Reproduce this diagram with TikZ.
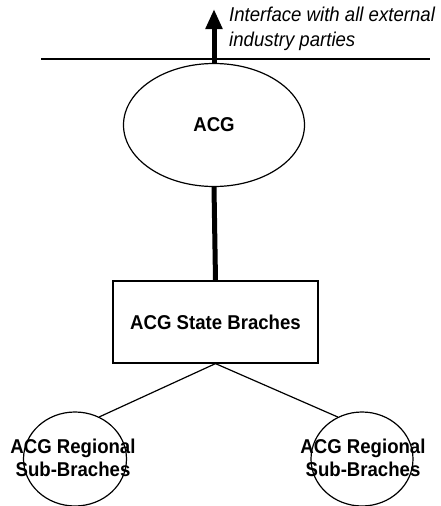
\documentclass[tikz,border=0pt]{standalone}
\usepackage{fontspec}
\setmainfont{Liberation Sans}[FakeStretch=0.93]
\usetikzlibrary{shapes.geometric,arrows.meta}
\tikzset{
  lbl/.style={font=\fontsize{20}{23}\selectfont\bfseries, align=center},
  thin/.style={line width=1.2pt, draw=black},
  thick5/.style={line width=5pt, draw=black}
}
\begin{document}
\begin{tikzpicture}[x=1pt,y=-1pt]
\useasboundingbox (0,0) rectangle (441,506);
\node[ellipse, thin, minimum width=181pt, minimum height=123pt, inner sep=0] (acg) at (214,125) {};
\node[lbl] at (acg.center) {ACG};
\node[rectangle, thin, minimum width=205pt, minimum height=82pt, inner sep=0] (state) at (215.5,322) {};
\node[lbl] at (state.center) {ACG State Braches};
\node[ellipse, thin, minimum width=103pt, minimum height=94pt, inner sep=0] (left) at (75,459) {};
\node[ellipse, thin, minimum width=102pt, minimum height=94pt, inner sep=0] (right) at (362,459) {};
\node[lbl] at (73,458) {ACG Regional\\Sub-Braches};
\node[lbl] at (363,458) {ACG Regional\\Sub-Braches};
\coordinate (lineL) at (41,59);
\coordinate (lineR) at (430,59);
\draw[thin] (lineL) -- (lineR);
\coordinate (tip) at (214,9);
\draw[thick5, -{Triangle[width=16pt,length=20pt]}] (acg.north) -- (tip);
\node[anchor=north west, align=left, inner sep=0, font=\fontsize{20}{25}\selectfont\itshape] (iface) at (229,7) {Interface with all external\\industry parties};
\draw[thick5] (acg.south) -- (state.north);
\draw[thin] (state.south) -- (left.60);
\draw[thin] (state.south) -- (right.120);
\end{tikzpicture}
\end{document}
